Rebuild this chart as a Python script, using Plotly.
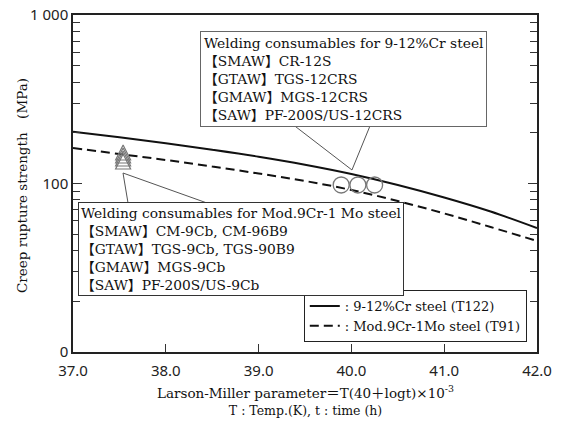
import plotly.graph_objects as go

# Larson-Miller parameter values (x10^-3)
lmp = [37.0, 37.5, 38.0, 38.5, 39.0, 39.5, 40.0, 40.5, 41.0, 41.5, 42.0]
# Creep rupture strength (MPa)
t122 = [203, 188.3, 173.5, 158.7, 144.2, 129.3, 113.9, 98.0, 82.6, 68.2, 54.4]
t91 = [162.4, 149.7, 137.9, 126.2, 114.6, 103.5, 91.5, 78.7, 66.4, 55.2, 45.6]

# weld metal test results
tri_x = [37.54, 37.54, 37.54, 37.54]
tri_y = [169.2, 162.4, 155.9, 149.6]
circ_x = [39.89, 40.07, 40.25]
circ_y = [98, 98, 98]

# callout geometry (data coords): tip then two box-edge points
call1_x = [40.006, 39.39, 40.20]
call1_y = [120.3, 219.4, 219.4]
call2_x = [37.539, 37.593, 38.444]
call2_y = [115.4, 76.6, 76.6]

ytick_vals = [10, 100, 1000]
ytick_text = ["0", "100", "1 000"]

box1_text = ("Welding consumables for 9-12%Cr steel<br>"
             "【SMAW】CR-12S<br>"
             "【GTAW】TGS-12CRS<br>"
             "【GMAW】MGS-12CRS<br>"
             "【SAW】PF-200S/US-12CRS")
box2_text = ("Welding consumables for Mod.9Cr-1 Mo steel<br>"
             "【SMAW】CM-9Cb, CM-96B9<br>"
             "【GTAW】TGS-9Cb, TGS-90B9<br>"
             "【GMAW】MGS-9Cb<br>"
             "【SAW】PF-200S/US-9Cb")

SERIF = "DejaVu Serif, Noto Sans CJK JP"
SANS = "Noto Sans, DejaVu Sans"

fig = go.Figure()
fig.add_trace(go.Scatter(x=lmp, y=t122, mode="lines", name=": 9-12%Cr steel (T122)",
                         line=dict(color="#111", width=2, shape="spline")))
fig.add_trace(go.Scatter(x=lmp, y=t91, mode="lines", name=": Mod.9Cr-1Mo steel (T91)",
                         line=dict(color="#111", width=2, dash="9px,5px", shape="spline")))
fig.add_trace(go.Scatter(x=tri_x, y=tri_y, mode="markers", showlegend=False,
                         marker=dict(symbol="arrow-up-open", size=15, color="#777",
                                     line=dict(color="#777", width=1.2))))
fig.add_trace(go.Scatter(x=circ_x, y=circ_y, mode="markers", showlegend=False,
                         marker=dict(symbol="circle-open", size=16, color="#777",
                                     line=dict(color="#777", width=1.3))))

shapes = []
for cx, cy in ((call1_x, call1_y), (call2_x, call2_y)):
    for i in (1, 2):
        shapes.append(dict(type="line", xref="x", yref="y",
                           x0=cx[0], y0=cy[0], x1=cx[i], y1=cy[i],
                           line=dict(color="#555", width=1)))

annotations = [
    dict(text=box1_text, xref="paper", yref="paper", x=0.2737, y=0.953,
         xanchor="left", yanchor="top", align="left", showarrow=False,
         font=dict(family=SERIF, size=13.8, color="#111"),
         bordercolor="#666", borderwidth=1, borderpad=3, bgcolor="white"),
    dict(text=box2_text, xref="paper", yref="paper", x=0.0108, y=0.446,
         xanchor="left", yanchor="top", align="left", showarrow=False,
         font=dict(family=SERIF, size=13.8, color="#111"),
         bordercolor="#333", borderwidth=1, borderpad=2, bgcolor="white"),
    dict(text="Creep rupture strength　(MPa)", xref="paper", yref="paper",
         x=-0.11, y=0.4955, xanchor="center", yanchor="middle", textangle=-90,
         showarrow=False, font=dict(family=SERIF, size=13.5, color="#111")),
    dict(text="Larson-Miller parameter＝T(40＋logt)×10<sup>-3</sup><br>"
              "<span style='font-size:12.5px'>T : Temp.(K), t : time (h)</span>",
         xref="paper", yref="paper", x=0.5, y=-0.086, xanchor="center", yanchor="top",
         showarrow=False, font=dict(family=SERIF, size=13.5, color="#111")),
]

fig.update_layout(
    width=565, height=425,
    margin=dict(l=73, r=28, t=15, b=73),
    paper_bgcolor="white", plot_bgcolor="white",
    shapes=shapes, annotations=annotations,
    showlegend=True,
    legend=dict(x=0.978, y=0.0297, xanchor="right", yanchor="bottom",
                bgcolor="white", bordercolor="#222", borderwidth=1,
                font=dict(family=SERIF, size=13, color="#111"),
                itemwidth=30, tracegroupgap=0),
)
fig.update_xaxes(range=[37, 42], dtick=1, tickformat=".1f", automargin=False,
                 showgrid=False, zeroline=False,
                 showline=True, linecolor="#222", linewidth=1.5, mirror=True,
                 ticks="inside", ticklen=8, tickcolor="#333", ticklabelstandoff=4,
                 tickfont=dict(family=SANS, size=15, color="#222"))
fig.update_yaxes(type="log", range=[1, 3], tickvals=ytick_vals, ticktext=ytick_text,
                 automargin=False, showgrid=False, zeroline=False,
                 showline=True, linecolor="#222", linewidth=1.5, mirror="ticks",
                 ticks="inside", ticklen=9, tickcolor="#333",
                 minor=dict(ticks="inside", ticklen=7, tickcolor="#333", dtick="D1",
                            showgrid=False),
                 tickfont=dict(family=SANS, size=15, color="#222"))

fig.write_html("out.html", config={"displayModeBar": False},
               post_script="document.body.style.margin='0px';")
